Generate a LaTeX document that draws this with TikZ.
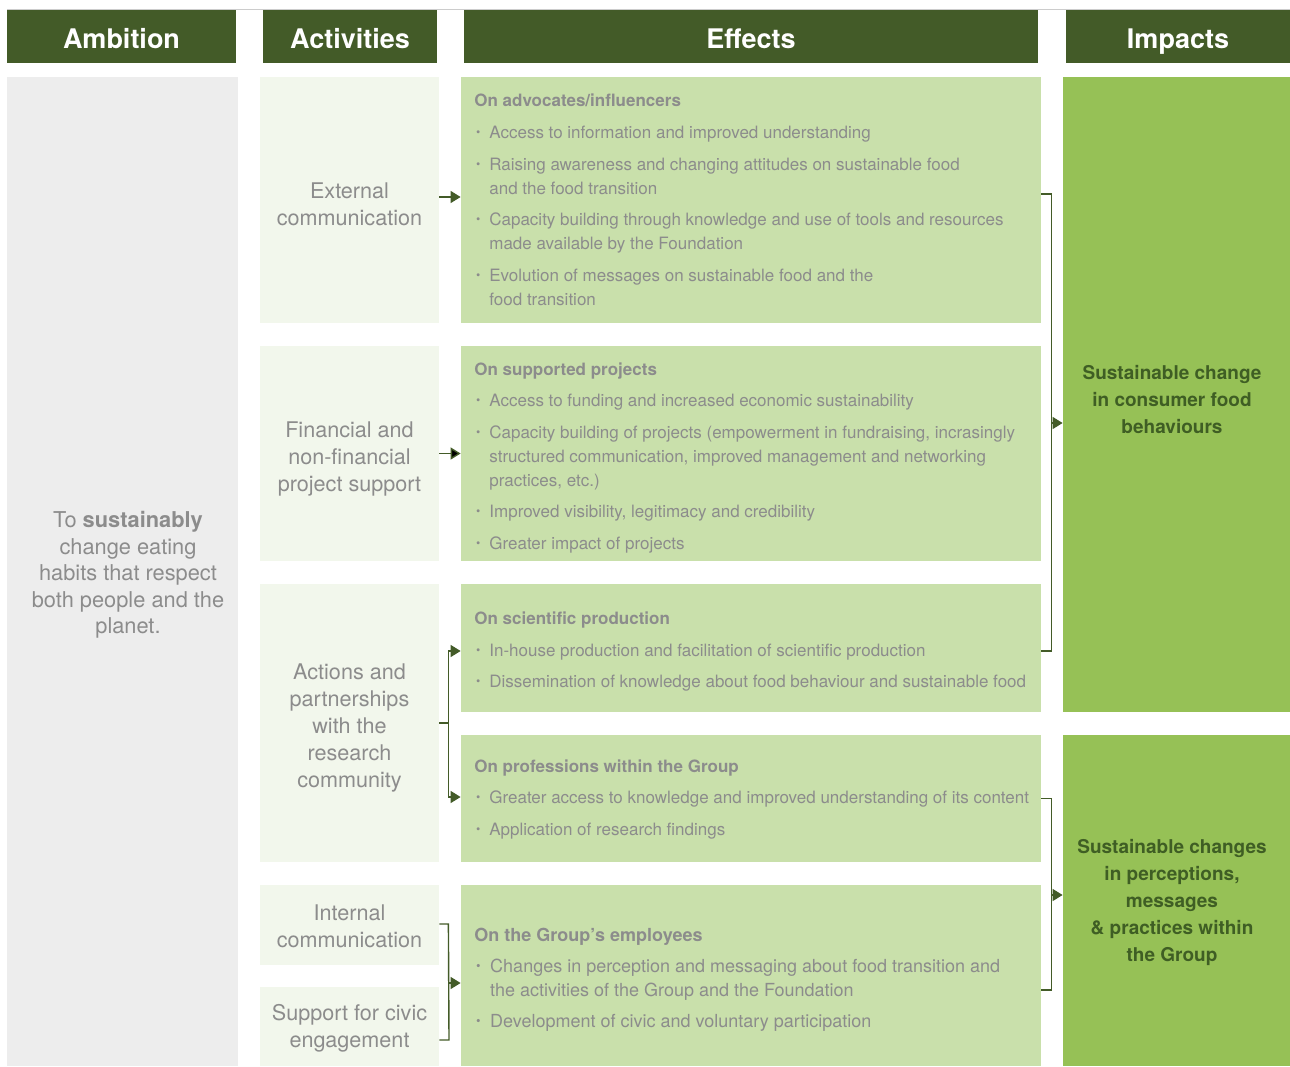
\documentclass[tikz,border=0pt]{standalone}
\usepackage{fontspec}
\setmainfont{TeX Gyre Heros}
\usetikzlibrary{arrows.meta}

\definecolor{hdrgreen}{RGB}{67,91,40}
\definecolor{impgreen}{RGB}{150,193,86}
\definecolor{effgreen}{RGB}{201,224,171}
\definecolor{actgreen}{RGB}{242,247,236}
\definecolor{ambgrey}{RGB}{237,237,237}
\definecolor{txtgrey}{RGB}{140,140,140}
\definecolor{imptext}{RGB}{63,94,36}

\newcommand{\bul}{\makebox[0.88em][l]{\hspace{0.1em}\raisebox{0.12em}{\scalebox{0.72}{\textbullet}}}}
\newcommand{\bulsp}{\makebox[0.88em]{}}

\begin{document}
\begin{tikzpicture}[x=0.5pt,y=-0.5pt,>={Triangle[length=5pt,width=6pt]},
    hdr/.style={fill=hdrgreen,text=white,font=\bfseries\fontsize{13.5}{16}\selectfont,
                minimum height=26.5pt,inner sep=0pt,text height=12.4pt,text depth=0pt},
    ambbox/.style={fill=ambgrey,minimum width=115.5pt,inner sep=0pt},
    ambtxt/.style={text=txtgrey,font=\fontsize{10.9}{13.25}\selectfont,align=center,inner sep=0pt},
    act/.style={fill=actgreen,minimum width=89.5pt,inner sep=0pt},
    acttxt/.style={text=txtgrey,font=\fontsize{10.8}{13.5}\selectfont,align=center,inner sep=0pt},
    eff/.style={fill=effgreen,minimum width=290pt,inner sep=0pt},
    efftxt/.style={anchor=west,text=txtgrey,font=\fontsize{8.5}{12}\selectfont,align=left,inner sep=0pt},
    imp/.style={fill=impgreen,minimum width=113.5pt,inner sep=0pt},
    imptxt/.style={text=imptext,font=\bfseries\fontsize{9.5}{13.5}\selectfont,align=center,inner sep=0pt},
    link/.style={draw=hdrgreen,line width=0.7pt},
    hair/.style={draw=black!20,line width=0.4pt}]

    \useasboundingbox (0,0) rectangle (1290,1066);
    \draw[hair] (7,9) -- (1290,9);

    % column heads
    \node[hdr,minimum width=114.5pt] (hamb) at (121.5,36.5)  {Ambition};
    \node[hdr,minimum width=87pt   ] (hact) at (350,36.5)    {Activities};
    \node[hdr,minimum width=287pt  ] (heff) at (751,36.5)    {Effects};
    \node[hdr,minimum width=112pt  ] (himp) at (1178,36.5)   {Impacts};

    \node[ambbox,minimum height=494.5pt] (amb) at (122.5,571.5) {};
    \node[ambtxt] (ambtext) at (128,575)
        {To \textbf{sustainably}\\change eating\\habits that respect\\both people and the\\planet.};

    % activities
    \node[act,minimum height=123pt  ] (ext) at (349.5,200)    {};
    \node[act,minimum height=107.5pt] (fin) at (349.5,453.5)  {};
    \node[act,minimum height=139pt  ] (res) at (349.5,723)    {};
    \node[act,minimum height=40pt   ] (int) at (349.5,925)    {};
    \node[act,minimum height=39.5pt ] (civ) at (349.5,1026.5) {};

    \node[acttxt] (text) at (349.5,204.5)  {External\\communication};
    \node[acttxt] (tfin) at (349.5,458.5)  {Financial and\\non-financial\\project support};
    \node[acttxt] (tres) at (349.5,728)    {Actions and\\partnerships\\with the\\research\\community};
    \node[acttxt] (tint) at (349.5,926.5)  {Internal\\communication};
    \node[acttxt] (tciv) at (349.5,1028.5) {Support for civic\\engagement};

    % effects
    \node[eff,minimum height=123pt  ] (eadv)  at (751,200)   {};
    \node[eff,minimum height=107.5pt] (eproj) at (751,453.5) {};
    \node[eff,minimum height=64pt   ] (esci)  at (751,648)   {};
    \node[eff,minimum height=63.5pt ] (eprof) at (751,798.5) {};
    \node[eff,minimum height=90.5pt ] (eempl) at (751,975.5) {};

    \node[efftxt] (tadv) at (474,200) {%
        \textbf{On advocates/influencers}\\[4pt]
        \bul Access to information and improved understanding\\[3.75pt]
        \bul Raising awareness and changing attitudes on sustainable food\\
        \bulsp and the food transition\\[3.75pt]
        \bul Capacity building through knowledge and use of tools and resources\\
        \bulsp made available by the Foundation\\[3.75pt]
        \bul Evolution of messages on sustainable food and the\\
        \bulsp food transition};
    \node[efftxt] (tproj) at (474,458) {%
        \textbf{On supported projects}\\[3.75pt]
        \bul Access to funding and increased economic sustainability\\[3.75pt]
        \bul Capacity building of projects (empowerment in fundraising, incrasingly\\
        \bulsp structured communication, improved management and networking\\
        \bulsp practices, etc.)\\[3.75pt]
        \bul Improved visibility, legitimacy and credibility\\[3.75pt]
        \bul Greater impact of projects};
    \node[efftxt] (tsci) at (474,652) {%
        \textbf{On scientific production}\\[3.75pt]
        \bul In-house production and facilitation of scientific production\\[3.75pt]
        \bul Dissemination of knowledge about food behaviour and sustainable food};
    \node[efftxt] (tprof) at (474,799.5) {%
        \textbf{On professions within the Group}\\[3.75pt]
        \bul Greater access to knowledge and improved understanding of its content\\[3.75pt]
        \bul Application of research findings};
    \node[efftxt,font=\fontsize{9}{12}\selectfont] (templ) at (474,979.5) {%
        \textbf{On the Group’s employees}\\[3.5pt]
        \bul Changes in perception and messaging about food transition and\\
        \bulsp the activities of the Group and the Foundation\\[3.5pt]
        \bul Development of civic and voluntary participation};

    % impacts
    \node[imp,minimum height=317.5pt] (imcons)  at (1176.5,394.5) {};
    \node[imp,minimum height=165.5pt] (imgroup) at (1176.5,900.5) {};
    \node[imptxt] (tcons)  at (1172,400)
        {Sustainable change\\in consumer food\\behaviours};
    \node[imptxt] (tgroup) at (1172,902)
        {Sustainable changes\\in perceptions,\\messages\\\& practices within\\the Group};

    \coordinate (ea) at ([yshift=1.5pt]ext.east);
    \draw[link,->] (ea) -- (eadv.west |- ea);
    \path [link,->] (fin) edge (eproj);

    \coordinate (rj) at ([xshift=4.5pt]res.east);
    \draw[link]    (res.east) -- (rj);
    \draw[link,->] (rj) |- ([yshift=-1.5pt]esci.west);
    \draw[link,->] (rj) |- ([yshift=0.75pt]eprof.west);

    \coordinate (ct) at ([xshift=4.5pt,yshift=0.5pt]int.east);
    \coordinate (cb) at (449,1040);
    \coordinate (cm) at (449,983);
    \draw[link]    (int.east |- ct) -- (ct) -- (cb) -- (civ.east |- cb);
    \draw[link,->] (cm) -- (eempl.west |- cm);

    \coordinate (ut) at ([xshift=5pt,yshift=3pt]eadv.east);
    \coordinate (ub) at ([xshift=5pt,yshift=-1.5pt]esci.east);
    \coordinate (um) at (1051,423);
    \draw[link]    (eadv.east |- ut) -- (ut) -- (ub) -- (esci.east |- ub);
    \draw[link,->] (um) -- (imcons.west |- um);

    \coordinate (lt) at ([xshift=5pt]eprof.east);
    \coordinate (lb) at ([xshift=5pt,yshift=-7.25pt]eempl.east);
    \coordinate (lm) at (1051,895);
    \draw[link]    (eprof.east) -- (lt) -- (lb) -- (eempl.east |- lb);
    \draw[link,->] (lm) -- (imgroup.west |- lm);

\end{tikzpicture}
\end{document}
